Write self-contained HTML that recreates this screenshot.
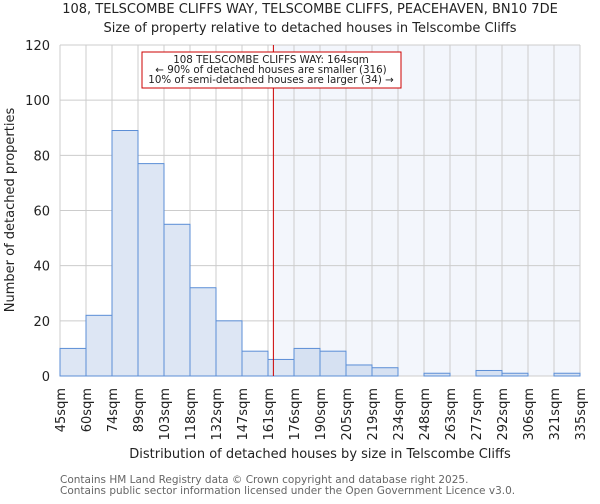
<!DOCTYPE html>
<html><head><meta charset="utf-8"><style>
body{margin:0;background:#fff;font-family:"DejaVu Sans","Liberation Sans",sans-serif;}
svg text{font-family:"DejaVu Sans","Liberation Sans",sans-serif;}
</style></head><body>
<svg id="chart" width="600" height="500" xmlns="http://www.w3.org/2000/svg">
<text x="310" y="13" font-size="13" text-anchor="middle" fill="#222">108, TELSCOMBE CLIFFS WAY, TELSCOMBE CLIFFS, PEACEHAVEN, BN10 7DE</text>
<text x="310" y="32" font-size="13" text-anchor="middle" fill="#222">Size of property relative to detached houses in Telscombe Cliffs</text>
<g id="grid"></g><g id="bars"></g><g id="axes"></g>
<text transform="translate(14,210) rotate(-90)" font-size="13" text-anchor="middle" fill="#222">Number of detached properties</text>
<text x="320" y="458" font-size="13" text-anchor="middle" fill="#222">Distribution of detached houses by size in Telscombe Cliffs</text>
<text x="60" y="483" font-size="10.5" fill="#666">Contains HM Land Registry data © Crown copyright and database right 2025.</text>
<text x="60" y="494" font-size="10.5" fill="#666">Contains public sector information licensed under the Open Government Licence v3.0.</text>
</svg>
<script>
const binLabels=["45sqm","60sqm","74sqm","89sqm","103sqm","118sqm","132sqm","147sqm","161sqm","176sqm","190sqm","205sqm","219sqm","234sqm","248sqm","263sqm","277sqm","292sqm","306sqm","321sqm","335sqm"];
const counts=[10,22,89,77,55,32,20,9,6,10,9,4,3,0,1,0,2,1,0,1];
const yTicks=[0,20,40,60,80,100,120];
const propertySize=164;
const minSize=45,maxSize=335;
const NS="http://www.w3.org/2000/svg";
const X0=60,X1=580,Y0=376,Y1=45;
const bw=(X1-X0)/counts.length;
const xs=i=>X0+i*bw;
const ys=v=>Y0-(v/120)*(Y0-Y1);
const xv=s=>X0+(s-minSize)/(maxSize-minSize)*(X1-X0);
function mk(t,a,p){const e=document.createElementNS(NS,t);for(const k in a)e.setAttribute(k,a[k]);p.appendChild(e);return e;}
const grid=document.getElementById('grid'),bars=document.getElementById('bars'),axes=document.getElementById('axes');
const lx=xv(propertySize);
const sh=mk('rect',{x:lx,y:Y1,width:X1-lx,height:Y0-Y1,fill:'#f3f6fc'},grid);


for(let i=0;i<=counts.length;i++){const l=mk('line',{x1:xs(i),x2:xs(i),y1:Y1,y2:Y0,stroke:'#ccc'},grid);

}
yTicks.forEach(t=>{const l=mk('line',{x1:X0,x2:X1,y1:ys(t),y2:ys(t),stroke:'#ccc'},grid);


const tx=mk('text',{x:50,y:ys(t)+5,'font-size':13,'text-anchor':'end',fill:'#222'},axes);tx.textContent=t;

});
counts.forEach((c,i)=>{const r=mk('rect',{x:xs(i),y:ys(c),width:bw,height:Y0-ys(c),fill:xs(i)>=lx-5?'#d6e1f2':'#dde6f4',stroke:'#5b8ed6','stroke-width':1},bars);

});
binLabels.forEach((b,i)=>{const tx=mk('text',{transform:`translate(${xs(i)+5},${388}) rotate(-90)`,'font-size':13,'text-anchor':'end',fill:'#222'},axes);tx.textContent=b;

});
const ml=mk('line',{x1:lx,x2:lx,y1:Y1,y2:Y0,stroke:'#c00','stroke-width':1},bars);


const g=mk('g',{},bars);


mk('rect',{x:142,y:52,width:259,height:36,fill:'#fff',stroke:'#c00'},g);
["108 TELSCOMBE CLIFFS WAY: 164sqm","← 90% of detached houses are smaller (316)","10% of semi-detached houses are larger (34) →"].forEach((s,k)=>{const t=mk('text',{x:271,y:63+k*10,'font-size':10.3,'text-anchor':'middle',fill:'#222'},g);t.textContent=s;});
</script>
</body></html>
